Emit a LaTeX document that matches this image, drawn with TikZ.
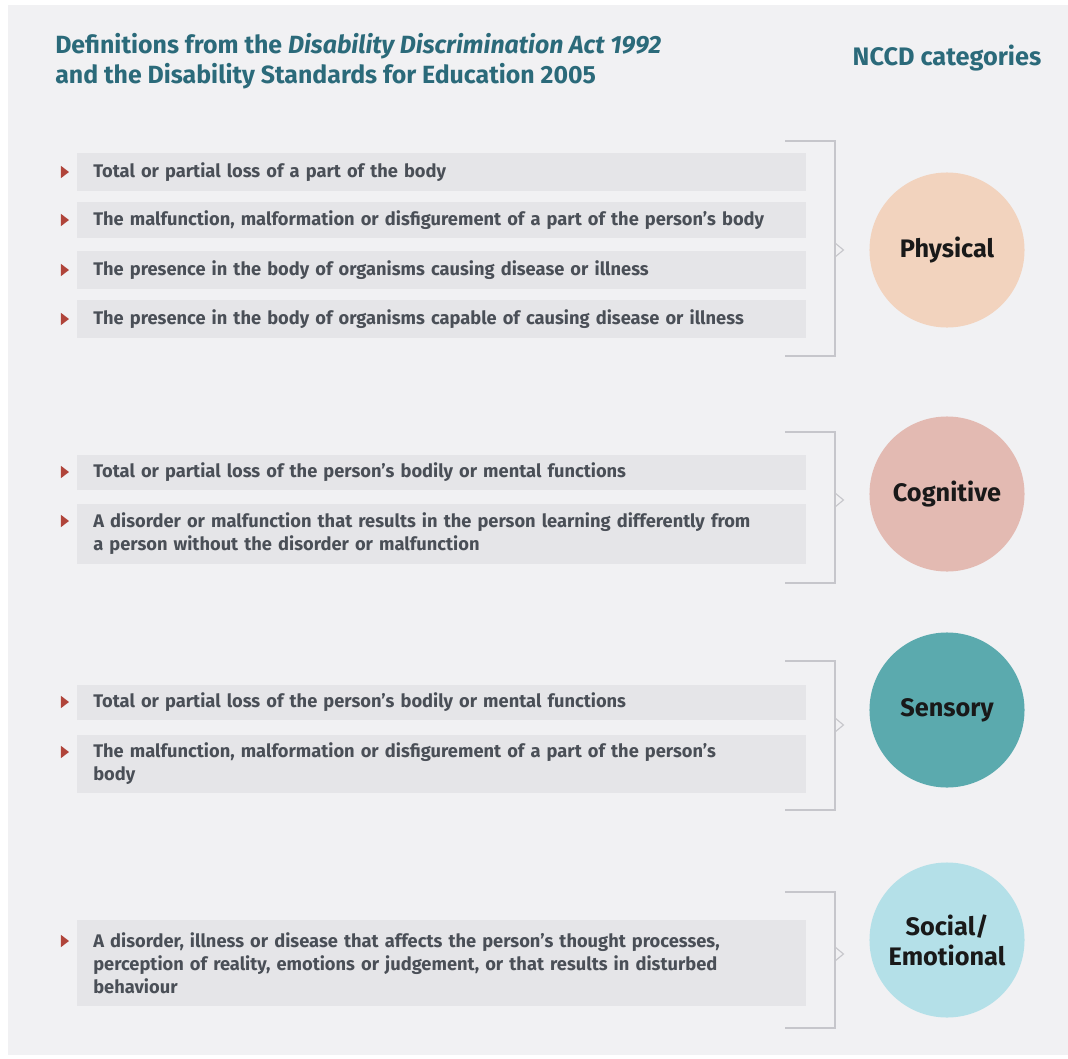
\documentclass[tikz,border=0pt]{standalone}
\usepackage{fontspec}
\setmainfont{Fira Sans}
\usetikzlibrary{shapes.geometric,positioning}

\definecolor{panelgray}{HTML}{F1F1F3}
\definecolor{boxgray}{HTML}{E5E5E8}
\definecolor{titleteal}{HTML}{2B6A7A}
\definecolor{itemtext}{HTML}{4A4F57}
\definecolor{bulletred}{HTML}{B0443A}
\definecolor{bracketgray}{HTML}{C6C6CB}
\definecolor{physfill}{HTML}{F2D3BE}
\definecolor{cognfill}{HTML}{E3BAB2}
\definecolor{sensfill}{HTML}{5BAAAE}
\definecolor{socfill}{HTML}{B4E0E8}

\begin{document}
\begin{tikzpicture}[
  x=0.025cm,y=-0.025cm,
  heading/.style={inner sep=0pt,text=titleteal,font=\bfseries\fontsize{17.7}{21.3}\selectfont},
  defbox/.style={fill=boxgray,anchor=west,minimum width=18.225cm,text width=17.425cm,
    inner xsep=0.4cm,inner ysep=0pt,align=left,text=itemtext,
    font=\bfseries\fontsize{13}{16.4}\selectfont},
  bullet/.style={isosceles triangle,isosceles triangle apex angle=75,fill=bulletred,
    inner sep=0pt,minimum height=0.2cm},
  category/.style={circle,minimum size=3.875cm,inner sep=0pt,align=center,
    text=black!90,font=\bfseries\fontsize{18}{21.5}\selectfont},
  bracket/.style={draw=bracketgray,line width=1.3pt}
]
\useasboundingbox (0,0) rectangle (1068,1059);
\fill[white] (0,0) rectangle (1068,1059);
\fill[panelgray] (8,5) rectangle (1068,1055);

\node[heading,anchor=north west,align=left] (title) at (55,33)
  {Definitions from the \textit{Disability Discrimination Act 1992}\\
   and the Disability Standards for Education 2005};
\node[heading,font=\bfseries\fontsize{18}{21.3}\selectfont] (ncc) at (947,58) {NCCD categories};

% physical
\node[defbox,minimum height=0.925cm] (p1) at (77,172) {Total or partial loss of a part of the body};
\node[defbox,minimum height=0.9cm] (p2) at (77,220) {The malfunction, malformation or disfigurement of a part of the person’s body};
\node[defbox,minimum height=0.925cm] (p3) at (77,270) {The presence in the body of organisms causing disease or illness};
\node[defbox,minimum height=0.95cm] (p4) at (77,319) {The presence in the body of organisms capable of causing disease or illness};
\node[bullet] (pb1) at (64,172) {};
\node[bullet] (pb2) at (64,220) {};
\node[bullet] (pb3) at (64,270) {};
\node[bullet] (pb4) at (64,319) {};
\node[category,fill=physfill] (phys) at (947,250) {Physical};
\coordinate (pt) at (785,141);
\coordinate (pm) at (835,250);
\coordinate (pd) at (785,356);
\draw[bracket] (pt) -| (pm) |- (pd);
\draw[bracket,line width=0.8pt] ([yshift=5pt]pm) -- ([xshift=6pt]pm) -- ([yshift=-5pt]pm);

% cognitive
\node[defbox,minimum height=0.875cm] (c1) at (77,472) {Total or partial loss of the person’s bodily or mental functions};
\node[defbox,minimum height=1.475cm] (c2) at (77,534) {A disorder or malfunction that results in the person learning differently from\\
  a person without the disorder or malfunction};
\node[bullet] (cb1) at (64,472) {};
\node[bullet] (cb2) at (64,521) {};
\node[category,fill=cognfill] (cogn) at (947,494) {Cognitive};
\coordinate (ct) at (785,432);
\coordinate (cm) at (835,500);
\coordinate (cd) at (785,583);
\draw[bracket] (ct) -| (cm) |- (cd);
\draw[bracket,line width=0.8pt] ([yshift=5pt]cm) -- ([xshift=6pt]cm) -- ([yshift=-5pt]cm);

% sensory
\node[defbox,minimum height=0.875cm] (s1) at (77,702) {Total or partial loss of the person’s bodily or mental functions};
\node[defbox,minimum height=1.425cm] (s2) at (77,764) {The malfunction, malformation or disfigurement of a part of the person’s\\
  body};
\node[bullet] (sb1) at (64,702) {};
\node[bullet] (sb2) at (64,752) {};
\node[category,fill=sensfill] (sens) at (947,710) {Sensory};
\coordinate (st) at (785,661);
\coordinate (sm) at (835,725);
\coordinate (sd) at (785,810);
\draw[bracket] (st) -| (sm) |- (sd);
\draw[bracket,line width=0.8pt] ([yshift=5pt]sm) -- ([xshift=6pt]sm) -- ([yshift=-5pt]sm);

% social / emotional
\node[defbox,minimum height=2.125cm] (e1) at (77,963) {A disorder, illness or disease that affects the person’s thought processes,\\
  perception of reality, emotions or judgement, or that results in disturbed\\
  behaviour};
\node[bullet] (eb1) at (64,941) {};
\node[category,fill=socfill] (soc) at (947,940) {Social/\\Emotional};
\coordinate (et) at (785,892);
\coordinate (em) at (835,954);
\coordinate (ed) at (785,1028);
\draw[bracket] (et) -| (em) |- (ed);
\draw[bracket,line width=0.8pt] ([yshift=5pt]em) -- ([xshift=6pt]em) -- ([yshift=-5pt]em);
\end{tikzpicture}
\end{document}
